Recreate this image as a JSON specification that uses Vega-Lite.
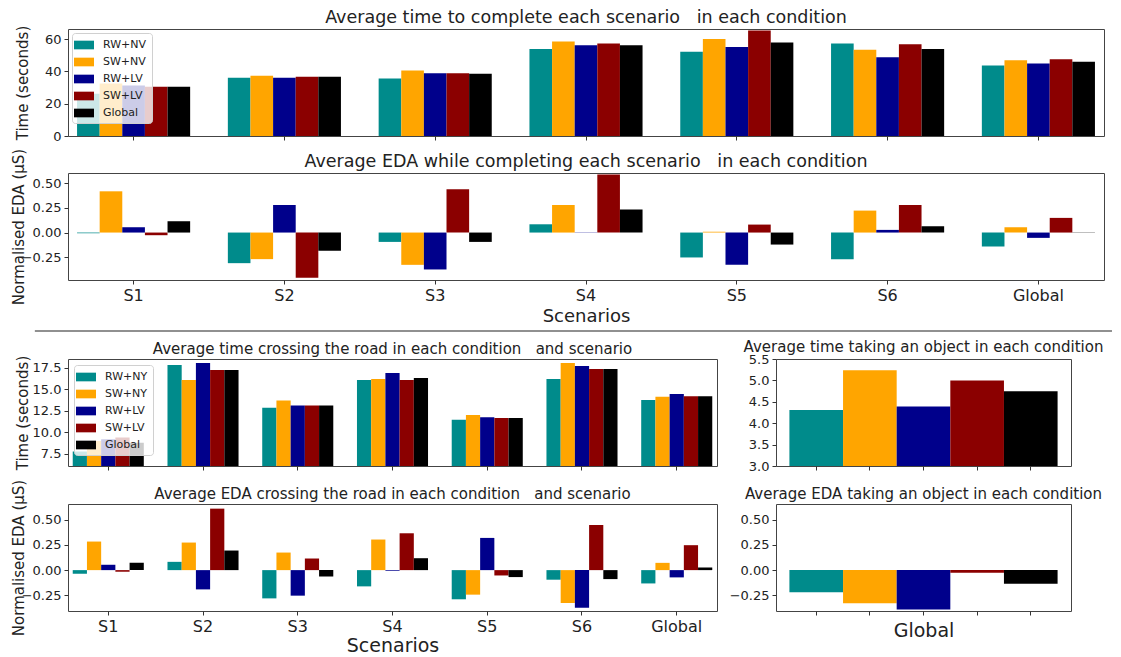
{
  "$schema": "https://vega.github.io/schema/vega-lite/v6.json",
  "background": "white",
  "padding": {"left": 10, "top": 8, "right": 5, "bottom": 5},
  "spacing": 4,
  "config": {
    "font": "DejaVu Sans",
    "view": {"stroke": "#444", "strokeWidth": 1},
    "axis": {"labelFont": "DejaVu Sans", "titleFont": "DejaVu Sans", "labelColor": "#222", "titleColor": "#222", "tickColor": "#333", "domain": false, "grid": false, "tickSize": 4, "labelPadding": 3, "titleFontWeight": "normal"},
    "title": {"font": "DejaVu Sans", "fontWeight": "normal", "color": "#222", "offset": 3},
    "legend": {"orient": "top-left", "offset": 4, "title": null, "symbolType": "M-1.5,-0.65H1.5V0.65H-1.5Z", "symbolSize": 178, "symbolStrokeWidth": 0, "symbolOpacity": 1, "labelFontSize": 11, "labelFont": "DejaVu Sans", "labelColor": "#222", "labelOffset": 12, "rowPadding": 5, "padding": 5, "fillColor": "rgba(255,255,255,0.8)", "strokeColor": "#d0d0d0", "cornerRadius": 3}
  },
  "datasets": {
    "task": [
      {"scenario": "S1", "condition": "RW+NV", "time": 26.1, "eda": -0.007},
      {"scenario": "S1", "condition": "SW+NV", "time": 32.5, "eda": 0.419},
      {"scenario": "S1", "condition": "RW+LV", "time": 31.3, "eda": 0.054},
      {"scenario": "S1", "condition": "SW+LV", "time": 30.4, "eda": -0.027},
      {"scenario": "S1", "condition": "Global", "time": 30.4, "eda": 0.115},
      {"scenario": "S2", "condition": "RW+NV", "time": 36.0, "eda": -0.311},
      {"scenario": "S2", "condition": "SW+NV", "time": 37.2, "eda": -0.27},
      {"scenario": "S2", "condition": "RW+LV", "time": 36.0, "eda": 0.28},
      {"scenario": "S2", "condition": "SW+LV", "time": 36.6, "eda": -0.459},
      {"scenario": "S2", "condition": "Global", "time": 36.6, "eda": -0.186},
      {"scenario": "S3", "condition": "RW+NV", "time": 35.6, "eda": -0.095},
      {"scenario": "S3", "condition": "SW+NV", "time": 40.5, "eda": -0.328},
      {"scenario": "S3", "condition": "RW+LV", "time": 38.8, "eda": -0.375},
      {"scenario": "S3", "condition": "SW+LV", "time": 38.8, "eda": 0.439},
      {"scenario": "S3", "condition": "Global", "time": 38.5, "eda": -0.095},
      {"scenario": "S4", "condition": "RW+NV", "time": 53.9, "eda": 0.084},
      {"scenario": "S4", "condition": "SW+NV", "time": 58.4, "eda": 0.28},
      {"scenario": "S4", "condition": "RW+LV", "time": 56.1, "eda": 0.003},
      {"scenario": "S4", "condition": "SW+LV", "time": 57.3, "eda": 0.591},
      {"scenario": "S4", "condition": "Global", "time": 56.1, "eda": 0.233},
      {"scenario": "S5", "condition": "RW+NV", "time": 52.2, "eda": -0.253},
      {"scenario": "S5", "condition": "SW+NV", "time": 60.0, "eda": 0.007},
      {"scenario": "S5", "condition": "RW+LV", "time": 55.1, "eda": -0.328},
      {"scenario": "S5", "condition": "SW+LV", "time": 65.2, "eda": 0.081},
      {"scenario": "S5", "condition": "Global", "time": 57.8, "eda": -0.122},
      {"scenario": "S6", "condition": "RW+NV", "time": 57.2, "eda": -0.27},
      {"scenario": "S6", "condition": "SW+NV", "time": 53.3, "eda": 0.223},
      {"scenario": "S6", "condition": "RW+LV", "time": 48.7, "eda": 0.027},
      {"scenario": "S6", "condition": "SW+LV", "time": 56.7, "eda": 0.28},
      {"scenario": "S6", "condition": "Global", "time": 53.9, "eda": 0.064},
      {"scenario": "Global", "condition": "RW+NV", "time": 43.6, "eda": -0.142},
      {"scenario": "Global", "condition": "SW+NV", "time": 46.9, "eda": 0.054},
      {"scenario": "Global", "condition": "RW+LV", "time": 44.8, "eda": -0.054},
      {"scenario": "Global", "condition": "SW+LV", "time": 47.5, "eda": 0.149},
      {"scenario": "Global", "condition": "Global", "time": 45.9, "eda": 0.003}
    ],
    "cross": [
      {"scenario": "S1", "condition": "RW+NY", "time": 7.77, "eda": -0.036},
      {"scenario": "S1", "condition": "SW+NY", "time": 9.0, "eda": 0.283},
      {"scenario": "S1", "condition": "RW+LV", "time": 9.2, "eda": 0.053},
      {"scenario": "S1", "condition": "SW+LV", "time": 9.4, "eda": -0.016},
      {"scenario": "S1", "condition": "Global", "time": 8.8, "eda": 0.072},
      {"scenario": "S2", "condition": "RW+NY", "time": 17.8, "eda": 0.082},
      {"scenario": "S2", "condition": "SW+NY", "time": 16.07, "eda": 0.273},
      {"scenario": "S2", "condition": "RW+LV", "time": 18.04, "eda": -0.191},
      {"scenario": "S2", "condition": "SW+LV", "time": 17.23, "eda": 0.609},
      {"scenario": "S2", "condition": "Global", "time": 17.23, "eda": 0.194},
      {"scenario": "S3", "condition": "RW+NY", "time": 12.85, "eda": -0.28},
      {"scenario": "S3", "condition": "SW+NY", "time": 13.7, "eda": 0.174},
      {"scenario": "S3", "condition": "RW+LV", "time": 13.12, "eda": -0.253},
      {"scenario": "S3", "condition": "SW+LV", "time": 13.12, "eda": 0.115},
      {"scenario": "S3", "condition": "Global", "time": 13.12, "eda": -0.062},
      {"scenario": "S4", "condition": "RW+NY", "time": 16.07, "eda": -0.161},
      {"scenario": "S4", "condition": "SW+NY", "time": 16.18, "eda": 0.303},
      {"scenario": "S4", "condition": "RW+LV", "time": 16.88, "eda": -0.007},
      {"scenario": "S4", "condition": "SW+LV", "time": 16.07, "eda": 0.365},
      {"scenario": "S4", "condition": "Global", "time": 16.3, "eda": 0.118},
      {"scenario": "S5", "condition": "RW+NY", "time": 11.45, "eda": -0.289},
      {"scenario": "S5", "condition": "SW+NY", "time": 12.0, "eda": -0.243},
      {"scenario": "S5", "condition": "RW+LV", "time": 11.76, "eda": 0.319},
      {"scenario": "S5", "condition": "SW+LV", "time": 11.65, "eda": -0.053},
      {"scenario": "S5", "condition": "Global", "time": 11.65, "eda": -0.069},
      {"scenario": "S6", "condition": "RW+NY", "time": 16.18, "eda": -0.095},
      {"scenario": "S6", "condition": "SW+NY", "time": 18.04, "eda": -0.326},
      {"scenario": "S6", "condition": "RW+LV", "time": 17.7, "eda": -0.372},
      {"scenario": "S6", "condition": "SW+LV", "time": 17.34, "eda": 0.447},
      {"scenario": "S6", "condition": "Global", "time": 17.34, "eda": -0.089},
      {"scenario": "Global", "condition": "RW+NY", "time": 13.74, "eda": -0.132},
      {"scenario": "Global", "condition": "SW+NY", "time": 14.13, "eda": 0.072},
      {"scenario": "Global", "condition": "RW+LV", "time": 14.44, "eda": -0.072},
      {"scenario": "Global", "condition": "SW+LV", "time": 14.17, "eda": 0.247},
      {"scenario": "Global", "condition": "Global", "time": 14.17, "eda": 0.026}
    ],
    "object": [
      {"condition": "RW+NV", "time": 4.31, "eda": -0.22},
      {"condition": "SW+NV", "time": 5.24, "eda": -0.329},
      {"condition": "RW+LV", "time": 4.39, "eda": -0.391},
      {"condition": "SW+LV", "time": 5.0, "eda": -0.026},
      {"condition": "Global", "time": 4.745, "eda": -0.135}
    ]
  },
  "resolve": {"scale": {"color": "independent", "x": "independent", "y": "independent", "xOffset": "independent"}},
  "vconcat": [
    {
      "spacing": 37,
      "bounds": "flush",
      "resolve": {"scale": {"color": "independent", "x": "independent", "y": "independent", "xOffset": "independent"}},
      "vconcat": [
        {
          "data": {"name": "task"},
          "width": 1036, "height": 107,
          "title": {"text": "Average time to complete each scenario\u00a0\u00a0\u00a0in each condition", "fontSize": 17.5, "offset": -1},
          "mark": {"type": "bar"},
          "encoding": {
            "x": {"field": "scenario", "type": "nominal", "sort": ["S1","S2","S3","S4","S5","S6","Global"], "scale": {"paddingInner": 0.25, "paddingOuter": 0.06}, "axis": {"labels": false, "title": null}},
            "xOffset": {"field": "condition", "type": "nominal", "sort": ["RW+NV","SW+NV","RW+LV","SW+LV","Global"], "scale": {"paddingInner": 0, "paddingOuter": 0}},
            "y": {"field": "time", "type": "quantitative", "scale": {"domain": [0, 66.2], "nice": false}, "axis": {"values": [0,20,40,60], "format": "d", "labelFontSize": 13, "title": "Time (seconds)", "titleFontSize": 15, "titleX": -46, "titleBaseline": "middle"}},
            "color": {"field": "condition", "type": "nominal", "sort": ["RW+NV","SW+NV","RW+LV","SW+LV","Global"], "scale": {"domain": ["RW+NV","SW+NV","RW+LV","SW+LV","Global"], "range": ["#008B8B","#FFA500","#00008B","#8B0000","#000000"]}}
          }
        },
        {
          "data": {"name": "task"},
          "width": 1036, "height": 107,
          "title": {"text": "Average EDA while completing each scenario\u00a0\u00a0\u00a0in each condition", "fontSize": 17.5, "offset": -22},
          "mark": {"type": "bar", "clip": true},
          "encoding": {
            "x": {"field": "scenario", "type": "nominal", "sort": ["S1","S2","S3","S4","S5","S6","Global"], "scale": {"paddingInner": 0.25, "paddingOuter": 0.06}, "axis": {"labelAngle": 0, "labelFontSize": 16, "title": "Scenarios", "titleFontSize": 18, "titlePadding": 4}},
            "xOffset": {"field": "condition", "type": "nominal", "sort": ["RW+NV","SW+NV","RW+LV","SW+LV","Global"], "scale": {"paddingInner": 0, "paddingOuter": 0}},
            "y": {"field": "eda", "type": "quantitative", "scale": {"domain": [-0.482, 0.605], "nice": false, "zero": false}, "axis": {"values": [-0.25,0,0.25,0.5], "format": ".2f", "labelFontSize": 13, "title": "Normalised EDA (μS)", "titleFontSize": 15, "titleX": -50, "titleBaseline": "middle"}},
            "color": {"field": "condition", "type": "nominal", "scale": {"domain": ["RW+NV","SW+NV","RW+LV","SW+LV","Global"], "range": ["#008B8B","#FFA500","#00008B","#8B0000","#000000"]}, "legend": null}
          }
        }
      ]
    },
    {
      "data": {"values": [{}]},
      "width": 1036, "height": 4,
      "view": {"stroke": null},
      "mark": {"type": "rule", "color": "#222", "strokeWidth": 1.2},
      "encoding": {
        "x": {"datum": -0.032, "type": "quantitative", "scale": {"domain": [0, 1], "nice": false, "zero": false}, "axis": null},
        "x2": {"datum": 1.0077},
        "y": {"datum": 1, "type": "quantitative", "scale": {"domain": [0, 1]}, "axis": null}
      }
    },
    {
      "spacing": 10,
      "resolve": {"scale": {"color": "independent", "x": "independent", "y": "independent", "xOffset": "independent"}},
      "hconcat": [
        {
          "spacing": 38,
          "bounds": "flush",
          "resolve": {"scale": {"color": "independent", "x": "independent", "y": "independent", "xOffset": "independent"}},
          "vconcat": [
            {
              "data": {"name": "cross"},
              "width": 649, "height": 107,
              "title": {"text": "Average time crossing the road in each condition\u00a0\u00a0\u00a0and scenario", "fontSize": 15, "offset": -2},
              "mark": {"type": "bar", "clip": true},
              "encoding": {
                "x": {"field": "scenario", "type": "nominal", "sort": ["S1","S2","S3","S4","S5","S6","Global"], "scale": {"paddingInner": 0.25, "paddingOuter": 0.05}, "axis": {"labels": false, "title": null}},
                "xOffset": {"field": "condition", "type": "nominal", "sort": ["RW+NY","SW+NY","RW+LV","SW+LV","Global"], "scale": {"paddingInner": 0, "paddingOuter": 0}},
                "y": {"field": "time", "type": "quantitative", "scale": {"domain": [6.1, 18.5], "nice": false, "zero": false}, "axis": {"values": [7.5,10,12.5,15,17.5], "format": ".1f", "labelFontSize": 13, "title": "Time (seconds)", "titleFontSize": 15, "titleX": -46, "titleBaseline": "middle"}},
                "color": {"field": "condition", "type": "nominal", "sort": ["RW+NY","SW+NY","RW+LV","SW+LV","Global"], "scale": {"domain": ["RW+NY","SW+NY","RW+LV","SW+LV","Global"], "range": ["#008B8B","#FFA500","#00008B","#8B0000","#000000"]}, "legend": {"offset": 6}}
              }
            },
            {
              "data": {"name": "cross"},
              "width": 649, "height": 107,
              "title": {"text": "Average EDA crossing the road in each condition\u00a0\u00a0\u00a0and scenario", "fontSize": 15, "offset": -23},
              "mark": {"type": "bar", "clip": true},
              "encoding": {
                "x": {"field": "scenario", "type": "nominal", "sort": ["S1","S2","S3","S4","S5","S6","Global"], "scale": {"paddingInner": 0.25, "paddingOuter": 0.05}, "axis": {"labelAngle": 0, "labelFontSize": 16, "title": "Scenarios", "titleFontSize": 19, "titlePadding": 2}},
                "xOffset": {"field": "condition", "type": "nominal", "sort": ["RW+NY","SW+NY","RW+LV","SW+LV","Global"], "scale": {"paddingInner": 0, "paddingOuter": 0}},
                "y": {"field": "eda", "type": "quantitative", "scale": {"domain": [-0.405, 0.655], "nice": false, "zero": false}, "axis": {"values": [-0.25,0,0.25,0.5], "format": ".2f", "labelFontSize": 13, "title": "Normalised EDA (μS)", "titleFontSize": 15, "titleX": -50, "titleBaseline": "middle"}},
                "color": {"field": "condition", "type": "nominal", "scale": {"domain": ["RW+NY","SW+NY","RW+LV","SW+LV","Global"], "range": ["#008B8B","#FFA500","#00008B","#8B0000","#000000"]}, "legend": null}
              }
            }
          ]
        },
        {
          "spacing": 38,
          "bounds": "flush",
          "resolve": {"scale": {"color": "independent", "x": "independent", "y": "independent", "xOffset": "independent"}},
          "vconcat": [
            {
              "data": {"name": "object"},
              "width": 295, "height": 107,
              "title": {"text": "Average time taking an object in each condition", "fontSize": 15, "offset": -2},
              "mark": {"type": "bar", "clip": true},
              "encoding": {
                "x": {"field": "condition", "type": "nominal", "sort": ["RW+NV","SW+NV","RW+LV","SW+LV","Global"], "scale": {"paddingInner": 0, "paddingOuter": 0.25}, "axis": {"labels": false, "title": null}},
                "y": {"field": "time", "type": "quantitative", "scale": {"domain": [3, 5.5], "nice": false, "zero": false}, "axis": {"values": [3,3.5,4,4.5,5,5.5], "format": ".1f", "labelFontSize": 13, "title": null}},
                "color": {"field": "condition", "type": "nominal", "scale": {"domain": ["RW+NV","SW+NV","RW+LV","SW+LV","Global"], "range": ["#008B8B","#FFA500","#00008B","#8B0000","#000000"]}, "legend": null}
              }
            },
            {
              "data": {"name": "object"},
              "width": 295, "height": 107,
              "title": {"text": "Average EDA taking an object in each condition", "fontSize": 15, "offset": 2},
              "mark": {"type": "bar", "clip": true},
              "encoding": {
                "x": {"field": "condition", "type": "nominal", "sort": ["RW+NV","SW+NV","RW+LV","SW+LV","Global"], "scale": {"paddingInner": 0, "paddingOuter": 0.25}, "axis": {"labels": false, "title": "Global", "titleFontSize": 19, "titlePadding": 6}},
                "y": {"field": "eda", "type": "quantitative", "scale": {"domain": [-0.405, 0.655], "nice": false, "zero": false}, "axis": {"values": [-0.25,0,0.25,0.5], "format": ".2f", "labelFontSize": 13, "title": null}},
                "color": {"field": "condition", "type": "nominal", "scale": {"domain": ["RW+NV","SW+NV","RW+LV","SW+LV","Global"], "range": ["#008B8B","#FFA500","#00008B","#8B0000","#000000"]}, "legend": null}
              }
            }
          ]
        }
      ]
    }
  ]
}
